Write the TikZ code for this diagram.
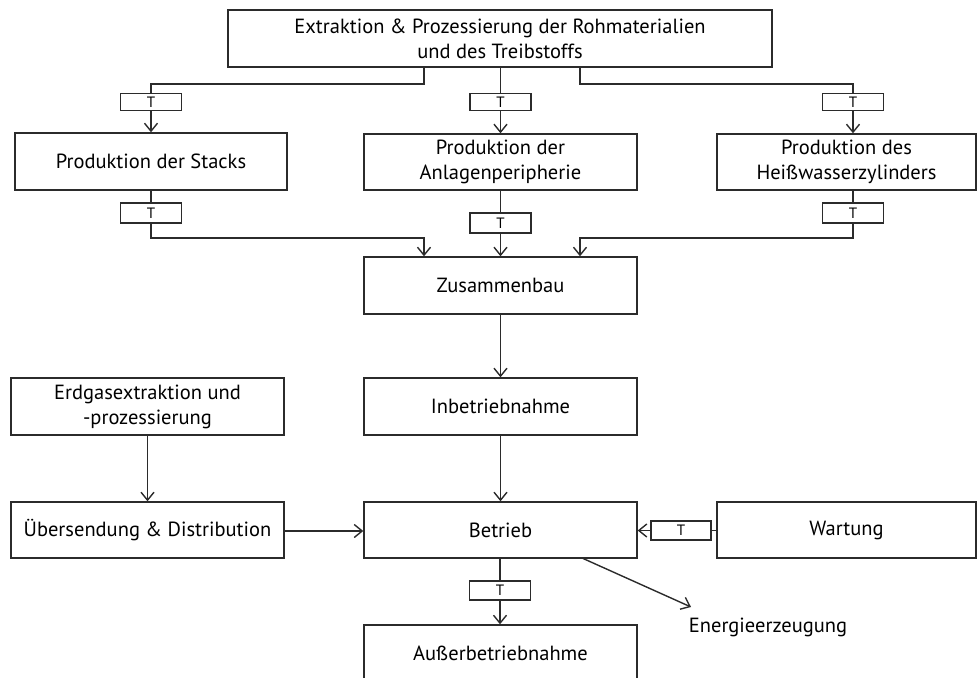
\documentclass[tikz,border=0pt]{standalone}
\usepackage{fontspec}
\setmainfont{PT Sans}
\usetikzlibrary{arrows.meta,calc}
\definecolor{ln}{HTML}{2B2B2B}
\begin{document}
\begin{tikzpicture}[x=1pt,y=-1pt,
  box/.style={draw=ln,line width=1.4pt,minimum height=57pt,inner sep=0pt,align=center,font=\fontsize{20.5}{25}\selectfont,text=black},
  tbox/.style={draw=ln,line width=1.3pt,minimum width=61pt,minimum height=17pt,inner sep=0pt,font=\fontsize{15}{16}\selectfont,text=black},
  ln/.style={draw=ln,line width=1.4pt},
  arr/.style={ln,-{Straight Barb[length=8pt,width=13pt,line width=1.4pt]}}]
\useasboundingbox (0,0) rectangle (979,677);
\clip (0,0) rectangle (979,677);
% main boxes
\node[box,minimum width=544pt] (top) at (500,38.5) {Extraktion \& Prozessierung der Rohmaterialien\\und des Treibstoffs};
\node[box,minimum width=272pt] (stacks) at (151,161.5) {Produktion der Stacks};
\node[box,minimum width=273pt,minimum height=56pt] (anl) at (500.5,162) {Produktion der\\Anlagenperipherie};
\node[box,minimum width=259pt,minimum height=56pt] (heiss) at (846.5,162) {Produktion des\\Heißwasserzylinders};
\node[box,minimum width=273pt] (zus) at (500.5,285.5) {Zusammenbau};
\node[box,minimum width=273pt] (inb) at (500.5,406.5) {Inbetriebnahme};
\node[box,minimum width=273pt,minimum height=56pt] (betr) at (500.5,530) {Betrieb};
\node[box,minimum width=273pt] (aus) at (500.5,653.5) {Außerbetriebnahme};
\node[box,minimum width=273pt] (erd) at (147.5,406.5) {Erdgasextraktion und\\-prozessierung};
\node[box,minimum width=273pt,minimum height=56pt] (ueb) at (147.5,530) {Übersendung \& Distribution};
\node[box,minimum width=259pt,minimum height=56pt] (wart) at (846.5,530) {Wartung};
\node[font=\fontsize{20.5}{24}\selectfont,text=black,inner sep=0pt] (energ) at (768,627) {Energieerzeugung};
% T boxes
\node[tbox] (t1) at (151,102) {T};
\node[tbox] (t2) at (500.5,102) {T};
\node[tbox] (t3) at (853,102) {T};
\node[tbox,minimum height=20pt] (t4) at (151,213) {T};
\node[tbox,minimum height=20pt] (t5) at (500.5,223) {T};
\node[tbox,minimum height=20pt] (t6) at (853,213) {T};
\node[tbox,minimum height=19pt] (t7) at (500,590.5) {T};
\node[tbox,minimum height=19pt,minimum width=60pt] (t8) at (681,530.5) {T};
% helper coordinates
\coordinate (k1) at (151,84);
\coordinate (k3) at (853,84);
\coordinate (j1) at (424,238);
\coordinate (j3) at (580,238);
\coordinate (es) at (582,558);
\coordinate (ee) at (691,607);
% top distribution
\draw[ln] (top.south -| j1) |- (k1) -- (t1.north);
\draw[ln] (top.south -| t2) -- (t2.north);
\draw[ln] (top.south -| j3) |- (k3) -- (t3.north);
\draw[arr] (t1) -- (stacks);
\draw[arr] (t2) -- (anl);
\draw[arr] (t3.south) -- (t3.south |- heiss.north);
% to assembly
\draw[ln] (stacks) -- (t4);
\draw[ln] (anl) -- (t5);
\draw[ln] (heiss.south -| t6) -- (t6.north);
\draw[arr] (t4.south) |- (j1) -- (j1 |- zus.north);
\draw[arr] (t5) -- (zus);
\draw[arr] (t6.south) |- (j3) -- (j3 |- zus.north);
% chain
\draw[arr] (zus) -- (inb);
\draw[arr] (inb) -- (betr);
\draw[arr] (erd) -- (ueb);
\draw[arr] (ueb.east |- 0,531) -- (betr.west |- 0,531);
\draw[ln] (wart.west |- t8) -- (t8.east);
\draw[arr] (t8.west) -- (betr.east |- t8);
\draw[ln] (betr.south -| t7) -- (t7.north);
\draw[arr] (t7.south) -- (t7.south |- aus.north);
\draw[arr] (es) -- (ee);
\end{tikzpicture}
\end{document}
